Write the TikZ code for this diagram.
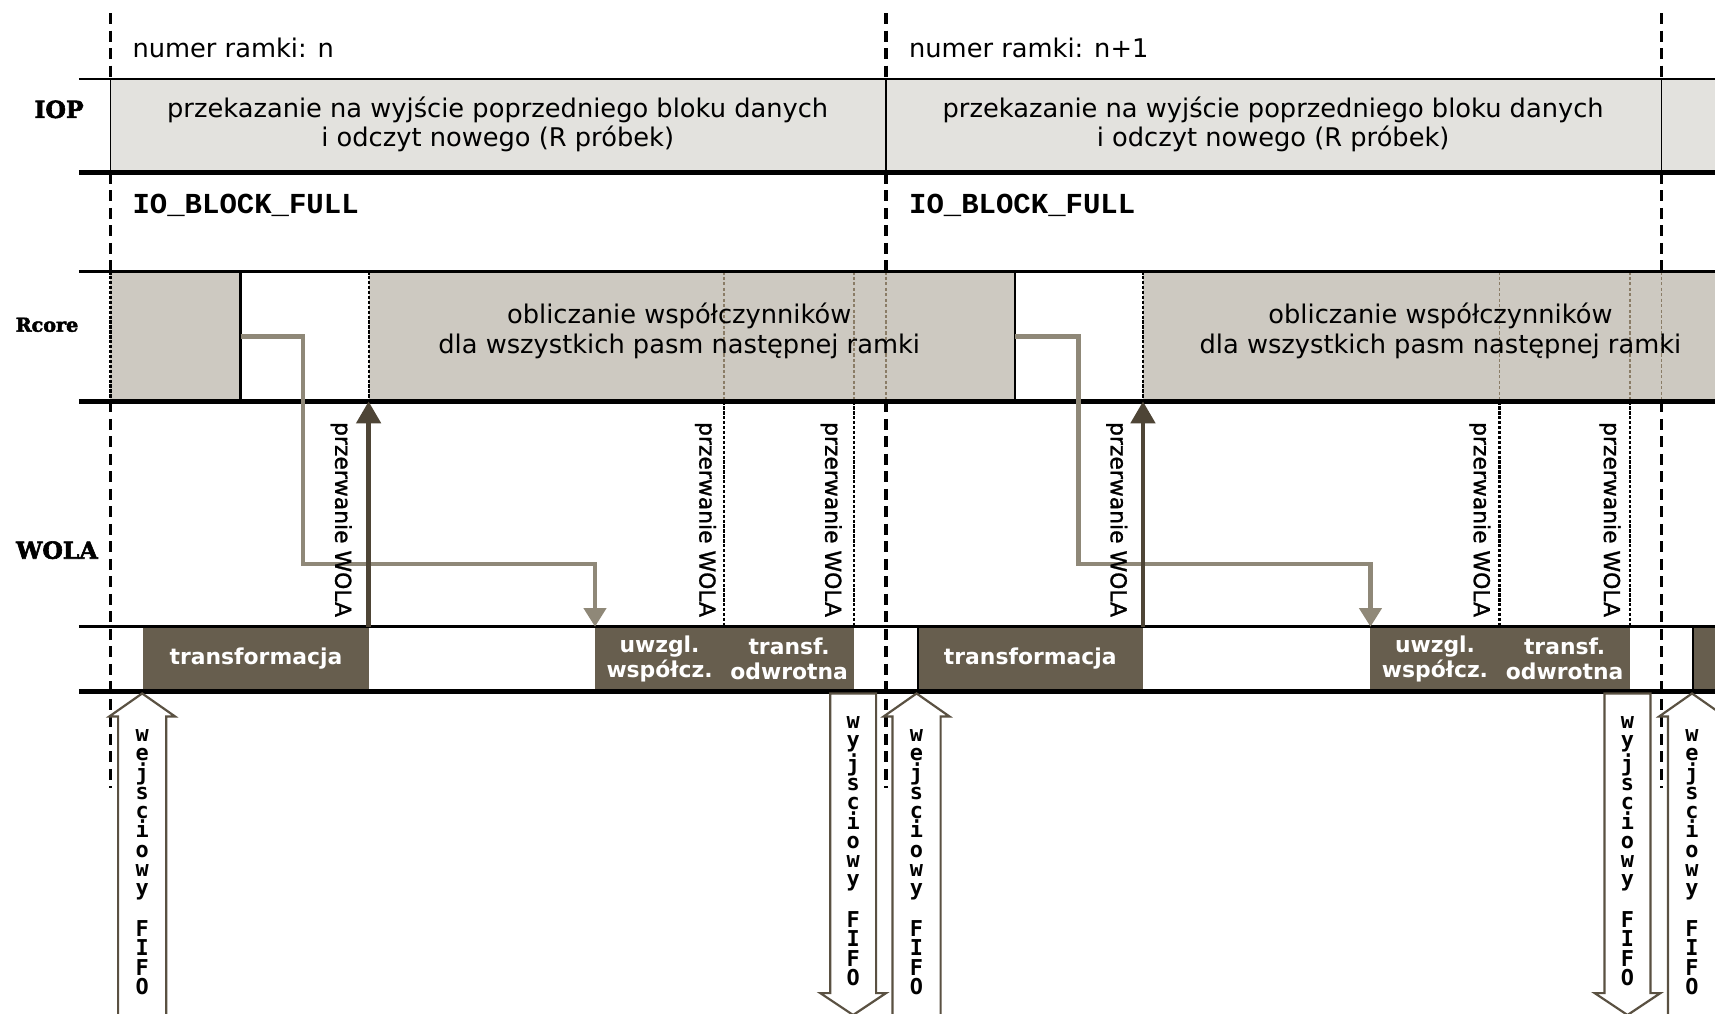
\documentclass[tikz,border=0pt]{standalone}
\usepackage{fontspec}
\setmainfont{DejaVu Sans}
\newfontfamily\rowfont[BoldFeatures={FakeBold=2.5}]{DejaVu Serif}
\newfontfamily\sigfont{Liberation Mono}
\newfontfamily\fifofont{DejaVu Sans Mono}
\newfontfamily\irqfont[FakeBold=1.2]{DejaVu Sans}
\usetikzlibrary{arrows.meta}

\definecolor{ioband}{HTML}{E3E2DE}
\definecolor{coreband}{HTML}{CDC9C1}
\definecolor{taskfill}{HTML}{675E4E}
\definecolor{flowline}{HTML}{8F8878}
\definecolor{irqline}{HTML}{4E4536}
\definecolor{markline}{HTML}{8A7C66}
\definecolor{fifoedge}{HTML}{5A5142}

\tikzset{
  framemark/.style={line width=3.5pt, dash pattern=on 10pt off 6pt},
  irqmark/.style={line width=2pt, dash pattern=on 3pt off 1.5pt},
  coremark/.style={line width=1.5pt, markline, dash pattern=on 3pt off 2pt},
  task/.style={fill=taskfill, text=white, inner sep=0pt, outer sep=0pt, anchor=north west,
    minimum height=59pt, align=center, font=\bfseries\fontsize{20}{23}\selectfont},
  coreidle/.style={fill=white, inner sep=0pt, outer sep=0pt, anchor=north west,
    minimum height=119pt, minimum width=117pt},
  flow/.style={flowline, line width=4pt, -{Triangle[width=20pt,length=17pt]}},
  irq/.style={irqline, line width=4pt, -{Triangle[width=22pt,length=20pt]}},
  irqtext/.style={rotate=-90, font=\irqfont\fontsize{20}{24}\selectfont, inner sep=0pt},
  body/.style={font=\fontsize{23.5}{27}\selectfont, align=center, inner sep=0pt},
  sig/.style={font=\sigfont\bfseries\fontsize{26.5}{30}\selectfont, inner sep=0pt},
  rowlabel/.style={font=\rowfont\bfseries\fontsize{21.5}{24}\selectfont, inner sep=0pt},
  fifo/.style={draw=fifoedge, fill=white, line width=2pt, line join=miter},
  fifotext/.style={font=\fifofont\bfseries\fontsize{20}{17.6}\selectfont, align=center,
    inner sep=0pt, anchor=north},
}

\begin{document}
\begin{tikzpicture}[x=1pt,y=-1pt]
\clip (0,0) rectangle (1568,927);
\fill[white] (0,0) rectangle (1568,927);

% band backgrounds
\fill[ioband] (101,72) rectangle (1568,158);
\fill[coreband] (101,248) rectangle (1568,367);
\node[coreidle] (cw1) at (220,248) {};
\node[coreidle] (cw2) at (928,248) {};

% tasks of the WOLA coprocessor
\node[task, minimum width=206pt] (tr1) at (131,573) {transformacja};
\node[task, minimum width=118pt] (uw1) at (544,573) {uwzgl.\\współcz.};
\node[task, minimum width=119pt] (it1) at (662,573) {transf.\\odwrotna};
\node[task, minimum width=206pt] (tr2) at (839,573) {transformacja};
\node[task, minimum width=118pt] (uw2) at (1253,573) {uwzgl.\\współcz.};
\node[task, minimum width=119pt] (it2) at (1371,573) {transf.\\odwrotna};
\node[task, minimum width=40pt] (tr3) at (1548,573) {};
\draw[line width=2pt] (839,573) -- (839,632);
\draw[line width=2pt] (1548,573) -- (1548,632);

% interrupt instants
\foreach \x in {662,781,1371,1490} {
  \draw[coremark] (\x,248) -- (\x,367);
  \draw[irqmark] (\x,367) -- (\x,573);
}
\draw[irqmark] (cw1.north east) -- (cw1.south east);
\draw[irqmark] (cw2.north east) -- (cw2.south east);
\draw[line width=2.5pt] (cw1.north west) -- (cw1.south west);
\draw[line width=2.5pt] (cw2.north west) -- (cw2.south west);

% frame boundaries
\foreach \x in {101,810,1519} {
  \draw[framemark] (\x,12) -- (\x,72);
  \draw[line width=1.5pt] (\x,72) -- (\x,158);
  \draw[framemark] (\x,158) -- (\x,248);
  \draw[framemark] (\x,367) -- (\x,720);
}
\draw[irqmark] (101,248) -- (101,367);
\draw[coremark] (810,248) -- (810,367);
\draw[coremark] (1519,248) -- (1519,367);

% rails
\draw[line width=2pt] (72,72) -- (1568,72);
\draw[line width=4.5pt] (72,158) -- (1568,158);
\draw[line width=2.5pt] (72,248) -- (1568,248);
\draw[line width=4pt] (72,367) -- (1568,367);
\draw[line width=3pt] (72,573) -- (1568,573);
\draw[line width=5pt] (72,632) -- (1568,632);

% row labels
\node[rowlabel] (lio) at (54,100) {IOP};
\node[rowlabel, font=\rowfont\bfseries\fontsize{17.5}{20}\selectfont] (lcore) at (43,297) {Rcore};
\node[rowlabel] (lwola) at (52,503) {WOLA};

% frame captions
\node[body, anchor=west] (fn1) at (121,44) {numer ramki: n};
\node[body, anchor=west] (fn2) at (831,44) {numer ramki: n+1};
\node[sig, anchor=west] (bf1) at (121,188) {IO\_BLOCK\_FULL};
\node[sig, anchor=west] (bf2) at (831,188) {IO\_BLOCK\_FULL};

% activity texts
\node[body] (io1) at (455,113.5) {przekazanie na wyjście poprzedniego bloku danych\\i odczyt nowego (R próbek)};
\node[body] (io2) at (1164,113.5) {przekazanie na wyjście poprzedniego bloku danych\\i odczyt nowego (R próbek)};
\node[body] (co1) at (621,302.5) {obliczanie współczynników\\dla wszystkich pasm następnej ramki};
\node[body] (co2) at (1317,302.5) {obliczanie współczynników\\dla wszystkich pasm następnej ramki};

% data flow and interrupts
\draw[flow] (cw1.west) -| ++(57,208) -| (uw1.north west);
\draw[flow] (cw2.west) -| ++(58,208) -| (uw2.north west);
\draw[irq] (tr1.north east) -- (cw1.south east);
\draw[irq] (tr2.north east) -- (cw2.south east);

\foreach \x/\n in {312/p1, 645/p2, 760/p3, 1021/p4, 1353/p5, 1472/p6}
  \node[irqtext] (\n) at (\x,475) {przerwanie WOLA};

% FIFO transfers
\foreach \c/\n in {130/fi1, 838/fi2, 1547/fi3} {
  \draw[fifo] (\c-22,940) -- (\c-22,655) -- (\c-30,655) -- (\c,634) -- (\c+30,655) -- (\c+22,655) -- (\c+22,940);
  \node[fifotext] (\n) at (\c,667) {w\\e\\j\\s\\c\\i\\o\\w\\y\\[17.6pt]F\\I\\F\\O};
}
\foreach \c/\n in {780/fo1, 1488/fo2} {
  \draw[fifo] (\c-21,634) -- (\c-21,908) -- (\c-30,908) -- (\c,928) -- (\c+30,908) -- (\c+21,908) -- (\c+21,634) -- cycle;
  \node[fifotext] (\n) at (\c,655) {w\\y\\j\\s\\c\\i\\o\\w\\y\\[17.6pt]F\\I\\F\\O};
}
\end{tikzpicture}
\end{document}
